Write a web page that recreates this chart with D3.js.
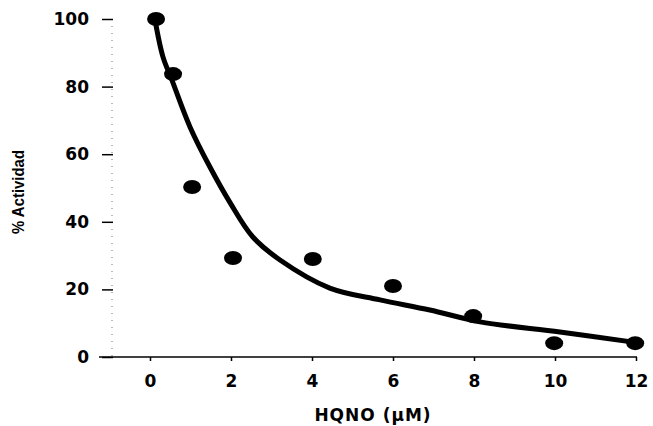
<!DOCTYPE html>
<html>
<head>
<meta charset="utf-8">
<script src="https://cdn.jsdelivr.net/npm/d3@7/dist/d3.min.js"></script>
<style>
  body { margin: 0; background: #fff; }
  text { fill: #000; }
</style>
</head>
<body>
<div id="chart"></div>
<script>
// measured points
const hqno = [0.15, 0.57, 1.04, 2.05, 4.02, 6.0, 7.98, 9.98, 11.98]
const actividad = [100, 83.7, 50.3, 29.3, 29.0, 21.0, 12.1, 4.1, 4.1]

// fitted curve
const fitX = [0.12, 0.32, 0.54, 0.99, 1.48, 1.98, 2.54, 3.21, 4.44, 5.68, 6.91, 8.15, 10.12, 11.93]
const fitY = [100, 88.8, 82.0, 68.0, 56.2, 45.6, 35.5, 28.7, 20.4, 16.9, 13.9, 10.4, 7.4, 4.4]

const xTicks = [0, 2, 4, 6, 8, 10, 12]
const yTicks = [0, 20, 40, 60, 80, 100]

const chart_width = 653
const chart_height = 426

const svg = d3.select("#chart")
  .append("svg")
  .attr("width", chart_width)
  .attr("height", chart_height)

const x = d3.scaleLinear().domain([0, 12]).range([150, 636])
const y = d3.scaleLinear().domain([0, 100]).range([357, 19])

const numFont = "'DejaVu Sans', sans-serif"

// y axis: faint dotted spine, short dash ticks
svg.append("line")
  .attr("x1", 112).attr("x2", 112)
  .attr("y1", y(100)).attr("y2", y(0))
  .attr("stroke", "#777")
  .attr("stroke-width", 1)
  .attr("stroke-dasharray", "1 6")

const yAxis = d3.axisLeft(y).tickValues(yTicks).tickSize(11).tickPadding(13)
const gy = svg.append("g")
  .attr("transform", "translate(113,0)")
  .call(yAxis)
gy.select(".domain").remove()
gy.selectAll(".tick line").attr("stroke", "#000").attr("stroke-width", 1.5)
gy.selectAll(".tick text")
  .attr("font-family", numFont)
  .attr("font-weight", "bold")
  .attr("font-size", 17)

// x axis
svg.append("line")
  .attr("x1", 99).attr("x2", 637)
  .attr("y1", y(0)).attr("y2", y(0))
  .attr("stroke", "#000")
  .attr("stroke-width", 1.5)

const xAxis = d3.axisBottom(x).tickValues(xTicks).tickSize(4).tickPadding(14)
const gx = svg.append("g")
  .attr("transform", `translate(0,${y(0)})`)
  .call(xAxis)
gx.select(".domain").remove()
gx.selectAll(".tick line").attr("stroke", "#000").attr("stroke-width", 1.5)
gx.selectAll(".tick text")
  .attr("font-family", numFont)
  .attr("font-weight", "bold")
  .attr("font-size", 17)

// axis titles
svg.append("text")
  .attr("x", 373)
  .attr("y", 421)
  .attr("text-anchor", "middle")
  .attr("font-family", numFont)
  .attr("font-weight", "bold")
  .attr("font-size", 17)
  .attr("letter-spacing", 1)
  .text("HQNO (µM)")

svg.append("text")
  .attr("transform", "translate(24,192) rotate(-90)")
  .attr("text-anchor", "middle")
  .attr("font-family", "'Liberation Sans', Arial, sans-serif")
  .attr("font-weight", "bold")
  .attr("font-size", 17)
  .attr("textLength", 84)
  .attr("lengthAdjust", "spacingAndGlyphs")
  .text("% Actividad")

// fitted curve
const fit = fitX.map((d, i) => [d, fitY[i]])
svg.append("path")
  .datum(fit)
  .attr("fill", "none")
  .attr("stroke", "#000")
  .attr("stroke-width", 5)
  .attr("stroke-linecap", "round")
  .attr("d", d3.line().x(d => x(d[0])).y(d => y(d[1])).curve(d3.curveCatmullRom))

// points
svg.selectAll(".pt")
  .data(hqno.map((d, i) => [d, actividad[i]]))
  .enter()
  .append("ellipse")
  .attr("class", "pt")
  .attr("cx", d => x(d[0]))
  .attr("cy", d => y(d[1]))
  .attr("rx", 9)
  .attr("ry", 7)
  .attr("fill", "#000")
</script>
</body>
</html>
